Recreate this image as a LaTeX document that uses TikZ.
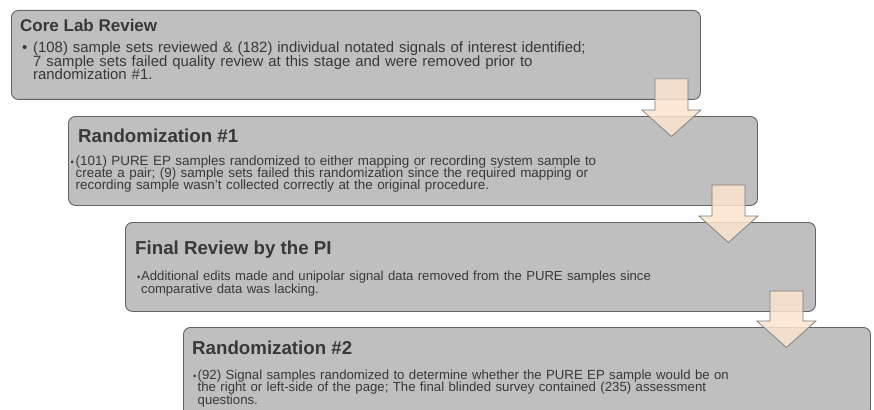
\documentclass[tikz,border=0pt]{standalone}
\usepackage{fontspec}
\setmainfont{Liberation Sans}
\usetikzlibrary{positioning}
\definecolor{boxgray}{HTML}{BFBFBF}
\definecolor{edgegray}{HTML}{636363}
\definecolor{peach}{HTML}{FBE4CC}
\definecolor{arrowedge}{HTML}{7A7A7A}
\definecolor{inkgray}{HTML}{383838}
\tikzset{
  stage/.style={draw=edgegray, fill=boxgray, line width=0.9pt, rounded corners=7pt,
    anchor=north west, inner sep=0pt, minimum height=89pt},
  heading/.style={anchor=base west, inner sep=0pt, text=inkgray, font=\bfseries\fontsize{18.7}{20}\selectfont},
  dot/.style={anchor=base west, inner sep=0pt, text=inkgray, font=\fontsize{9.5}{10}\selectfont},
  bodytext/.style={anchor=base west, inner sep=0pt, text width=680pt, align=left, text=inkgray},
  flowarrow/.style={draw=arrowedge, line width=0.7pt, fill=peach, fill opacity=0.85}
}
\begin{document}
\begin{tikzpicture}[x=1pt, y=-1pt]
  \clip (0,0) rectangle (874,409);
  % stages
  \node[stage, minimum width=689pt] (b1) at (11,10) {};
  \node[stage, minimum width=689pt] (b2) at (68,116) {};
  \node[stage, minimum width=690pt] (b3) at (125,222) {};
  \node[stage, minimum width=687pt] (b4) at (183,327) {};

  % Core Lab Review
  \node[heading, font=\bfseries\fontsize{17}{19}\selectfont] (t1) at ([xshift=9pt, yshift=-22pt]b1.north west) {Core Lab Review};
  \node[dot, font=\fontsize{14.9}{13.5}\selectfont] (d1) at ([xshift=11pt, yshift=-43pt]b1.north west) {\textbullet};
  \node[bodytext, font={\fontsize{14.9}{13.5}\selectfont\lineskiplimit=-20pt}] (x1) at ([xshift=22pt, yshift=-43pt]b1.north west)
    {(108) sample sets reviewed \& (182) individual notated signals of interest identified;\\%
     7 sample sets failed quality review at this stage and were removed prior to\\%
     randomization \#1.};

  % Randomization 1
  \node[heading] (t2) at ([xshift=10pt, yshift=-26pt]b2.north west) {Randomization \#1};
  \node[dot] (d2) at ([xshift=2.5pt, yshift=-49pt]b2.north west) {\textbullet};
  \node[bodytext, font={\fontsize{13.4}{12}\selectfont\lineskiplimit=-20pt}] (x2) at ([xshift=7.5pt, yshift=-49pt]b2.north west)
    {(101) PURE EP samples randomized to either mapping or recording system sample to\\%
     create a pair; (9) sample sets failed this randomization since the required mapping or\\%
     recording sample wasn’t collected correctly at the original procedure.};

  % Final review
  \node[heading] (t3) at ([xshift=10pt, yshift=-32pt]b3.north west) {Final Review by the PI};
  \node[dot] (d3) at ([xshift=12pt, yshift=-58pt]b3.north west) {\textbullet};
  \node[bodytext, font={\fontsize{13.1}{13}\selectfont\lineskiplimit=-20pt}] (x3) at ([xshift=16pt, yshift=-58pt]b3.north west)
    {Additional edits made and unipolar signal data removed from the PURE samples since\\%
     comparative data was lacking.};

  % Randomization 2
  \node[heading] (t4) at ([xshift=9pt, yshift=-27pt]b4.north west) {Randomization \#2};
  \node[dot] (d4) at ([xshift=10pt, yshift=-52pt]b4.north west) {\textbullet};
  \node[bodytext, font={\fontsize{13.2}{12.5}\selectfont\lineskiplimit=-20pt}] (x4) at ([xshift=14.5pt, yshift=-52pt]b4.north west)
    {(92) Signal samples randomized to determine whether the PURE EP sample would be on\\%
     the right or left-side of the page; The final blinded survey contained (235) assessment\\%
     questions.};

  % block arrows between stages
  \foreach \up/\dn in {b1/b2, b2/b3, b3/b4} {
    \coordinate (top) at ([xshift=-29.5pt, yshift=21pt]\up.south east);
    \coordinate (lvl) at ([yshift=-20.5pt]\dn.north);
    \coordinate (tip) at (top |- lvl);
    \draw[flowarrow] ([xshift=-16.5pt]top) -- ([xshift=16.5pt]top)
      -- ([xshift=16.5pt, yshift=26.5pt]tip) -- ([xshift=29.5pt, yshift=26.5pt]tip)
      -- (tip) -- ([xshift=-29.5pt, yshift=26.5pt]tip)
      -- ([xshift=-16.5pt, yshift=26.5pt]tip) -- cycle;
  }
\end{tikzpicture}
\end{document}
